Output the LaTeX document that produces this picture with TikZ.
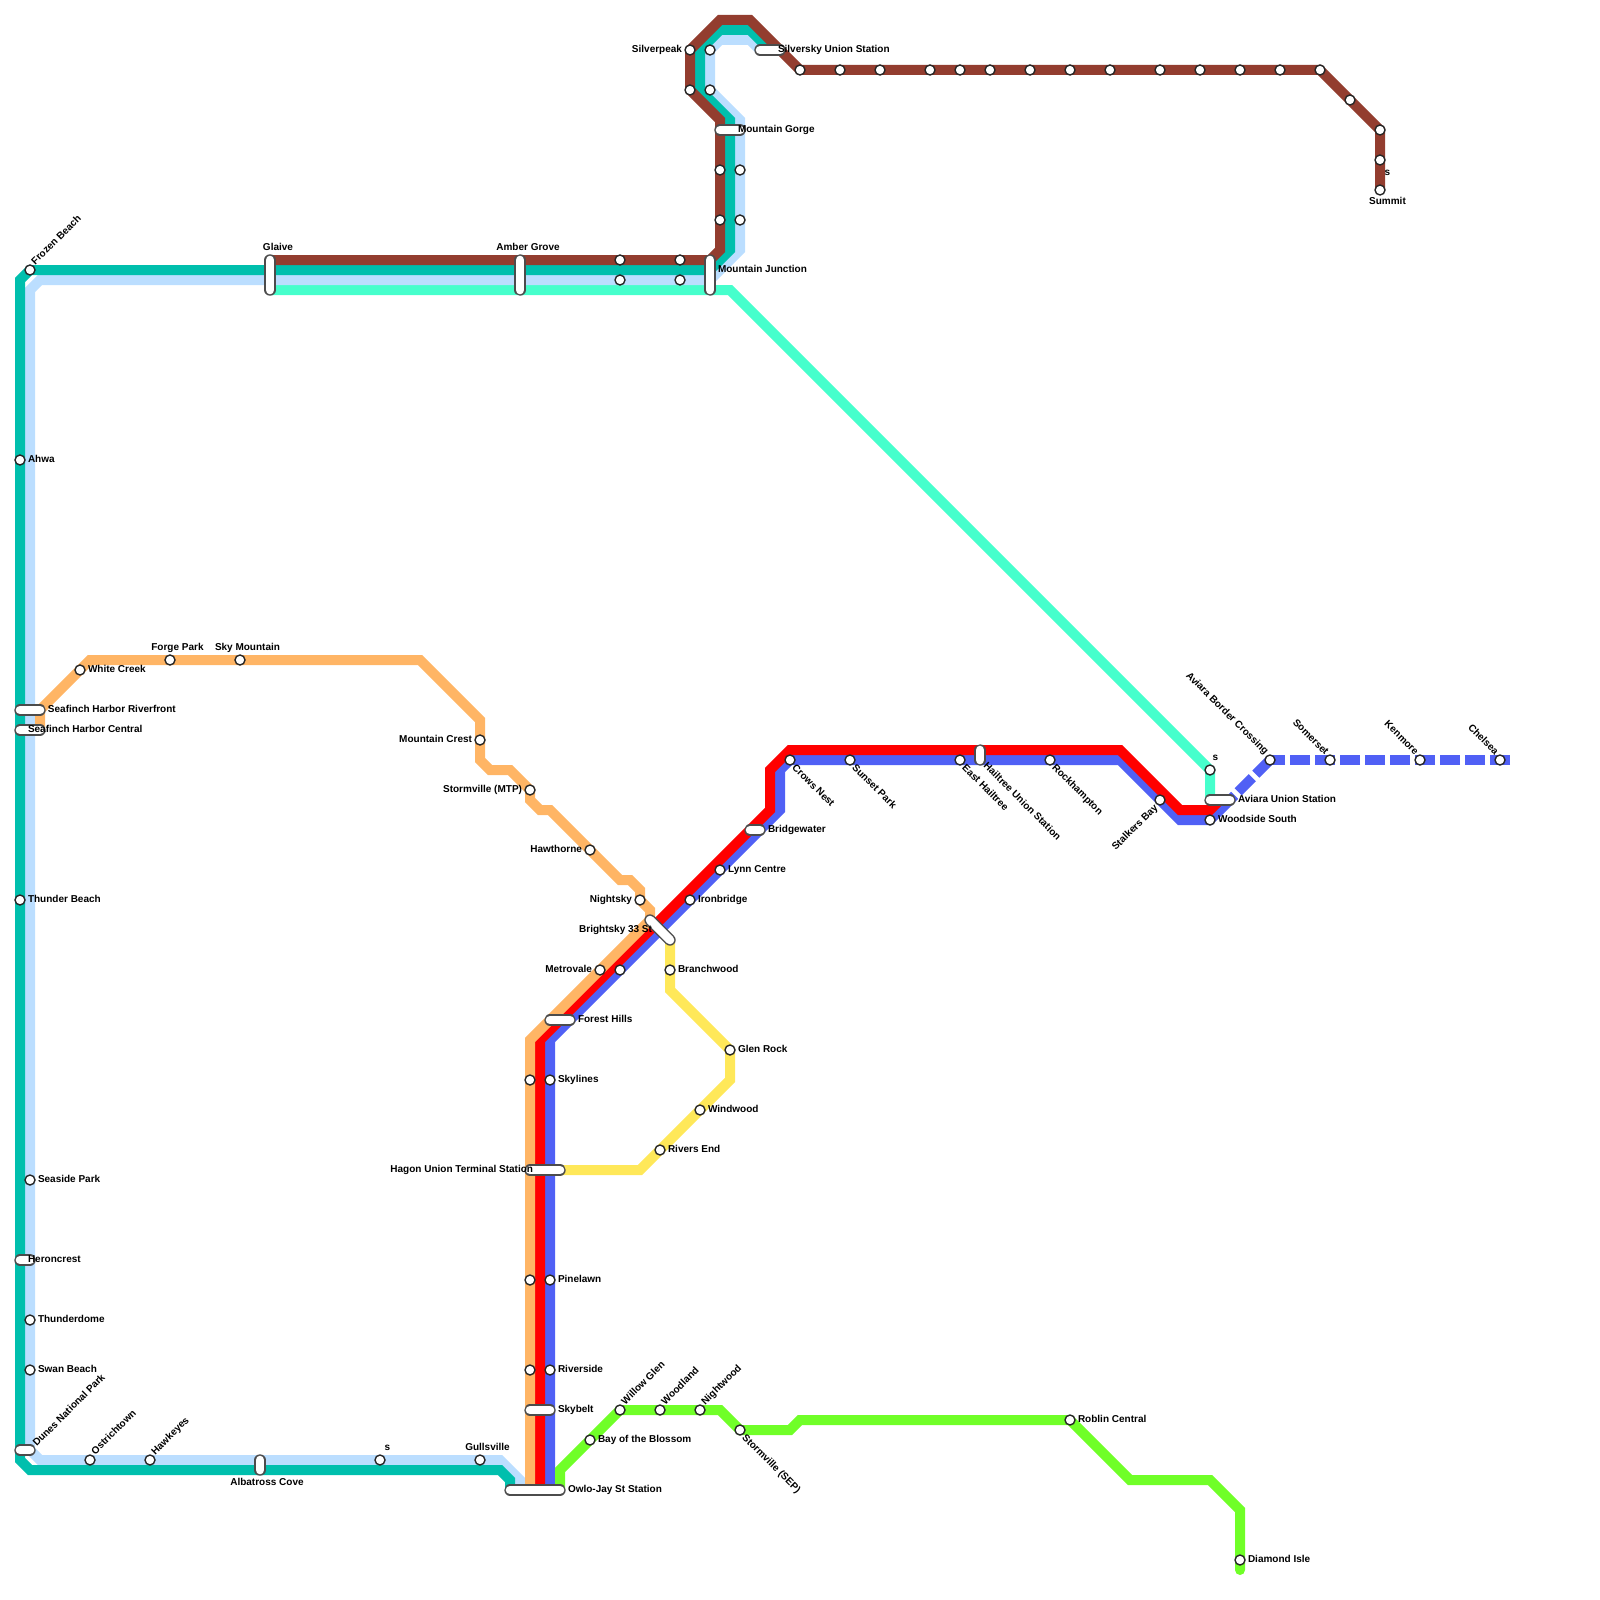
\documentclass[tikz,border=0pt]{standalone}
\usepackage{fontspec}
\setmainfont{Liberation Sans}
\usetikzlibrary{backgrounds}

\definecolor{brownline}{HTML}{933D2F}
\definecolor{tealline}{HTML}{00BFAD}
\definecolor{skyline}{HTML}{BBDEFF}
\definecolor{aqualine}{HTML}{46FFCC}
\definecolor{orangeline}{HTML}{FFB565}
\definecolor{redline}{HTML}{FF0000}
\definecolor{blueline}{HTML}{5060F5}
\definecolor{yellowline}{HTML}{FFE859}
\definecolor{greenline}{HTML}{70FF28}

\tikzset{
    metro/.style={line width=1mm, line join=miter},
    station/.style={circle, draw=black!85, fill=white, line width=0.14mm, minimum size=1mm, inner sep=0pt, outer sep=0pt},
    pill/.style={draw=black!70, line width=0.14mm, double=white, double distance=0.86mm, line cap=round},
    lbl/.style={font=\fontsize{2.845}{3.4}\selectfont\bfseries, text=black, inner sep=0pt, outer sep=0pt, text height=0.72mm, text depth=0.2mm},
    lblN/.style={lbl, xshift=0.75mm},
    lblNE/.style={lbl, rotate=45, anchor=west},
    lblSE/.style={lbl, rotate=-45, anchor=west},
    lblNW/.style={lbl, rotate=-45, anchor=east},
    lblSW/.style={lbl, rotate=45, anchor=east}
}

\begin{document}
\begin{tikzpicture}[x=1mm, y=-1mm, label distance=0.3mm]
    \useasboundingbox (0,0) rectangle (160,160);

    % interchanges
    \coordinate (glaiveN) at (27,26);
    \coordinate (glaiveS) at (27,29);
    \coordinate (amberN) at (52,26);
    \coordinate (amberS) at (52,29);
    \coordinate (junctionN) at (71,26);
    \coordinate (junctionS) at (71,29);
    \coordinate (gorgeW) at (72,13);
    \coordinate (gorgeE) at (74,13);
    \coordinate (silverskyW) at (76,5);
    \coordinate (silverskyM) at (77,5);
    \coordinate (silverskyE) at (78,5);
    \coordinate (riverfrontW) at (2,71);
    \coordinate (riverfrontE) at (4,71);
    \coordinate (centralW) at (2,73);
    \coordinate (centralE) at (4,73);
    \coordinate (heronW) at (2,126);
    \coordinate (heronE) at (3,126);
    \coordinate (dunesW) at (2,145);
    \coordinate (dunesE) at (3,145);
    \coordinate (albatrossN) at (26,146);
    \coordinate (albatrossS) at (26,147);
    \coordinate (owloT) at (51,149);
    \coordinate (owloL) at (52,149);
    \coordinate (owloO) at (53,149);
    \coordinate (owloR) at (54,149);
    \coordinate (owloP) at (55,149);
    \coordinate (owloG) at (56,149);
    \coordinate (skybeltW) at (53,141);
    \coordinate (skybeltE) at (55,141);
    \coordinate (hagonW) at (53,117);
    \coordinate (hagonE) at (56,117);
    \coordinate (forestW) at (55,102);
    \coordinate (forestE) at (57,102);
    \coordinate (brightskyN) at (65,92);
    \coordinate (brightskyS) at (67,94);
    \coordinate (bridgeW) at (75,83);
    \coordinate (bridgeE) at (76,83);
    \coordinate (hailtreeN) at (98,75);
    \coordinate (hailtreeS) at (98,76);
    \coordinate (aviaraW) at (121,80);
    \coordinate (aviaraM) at (122,80);
    \coordinate (aviaraE) at (123,80);

    \draw[pill] (glaiveN) -- (glaiveS);
    \draw[pill] (amberN) -- (amberS);
    \draw[pill] (junctionN) -- (junctionS);
    \draw[pill] (gorgeW) -- (gorgeE);
    \draw[pill] (silverskyW) -- (silverskyE);
    \draw[pill] (riverfrontW) -- (riverfrontE);
    \draw[pill] (centralW) -- (centralE);
    \draw[pill] (heronW) -- (heronE);
    \draw[pill] (dunesW) -- (dunesE);
    \draw[pill] (albatrossN) -- (albatrossS);
    \draw[pill] (owloT) -- (owloG);
    \draw[pill] (skybeltW) -- (skybeltE);
    \draw[pill] (hagonW) -- (hagonE);
    \draw[pill] (forestW) -- (forestE);
    \draw[pill] (brightskyN) -- (brightskyS);
    \draw[pill] (bridgeW) -- (bridgeE);
    \draw[pill] (hailtreeN) -- (hailtreeS);
    \draw[pill] (aviaraW) -- (aviaraE);

    % west side
    \node[station, label={[lblNE]45:Frozen Beach}] (frozen) at (3,27) {};
    \node[station, label={[lbl]right:Ahwa}] (ahwa) at (2,46) {};
    \node[station, label={[lbl]right:Thunder Beach}] (thunderBeach) at (2,90) {};
    \node[station, label={[lbl]right:Seaside Park}] (seaside) at (3,118) {};
    \node[station, label={[lbl]right:Thunderdome}] (thunderdome) at (3,132) {};
    \node[station, label={[lbl]right:Swan Beach}] (swan) at (3,137) {};
    \node[station, label={[lblNE]45:Ostrichtown}] (ostrich) at (9,146) {};
    \node[station, label={[lblNE]45:Hawkeyes}] (hawkeyes) at (15,146) {};
    \node[station, label={[lblN]above:s}] (southS) at (38,146) {};
    \node[station, label={[lblN]above:Gullsville}] (gullsville) at (48,146) {};

    % top
    \node[station] (midA) at (62,26) {};
    \node[station] (midB) at (62,28) {};
    \node[station] (midC) at (68,26) {};
    \node[station] (midD) at (68,28) {};
    \node[station] (gorgeA) at (72,17) {};
    \node[station] (gorgeB) at (72,22) {};
    \node[station] (gorgeC) at (74,17) {};
    \node[station] (gorgeD) at (74,22) {};
    \node[station, label={[lbl]left:Silverpeak}] (silverpeak) at (69,5) {};
    \node[station] (peakB) at (69,9) {};
    \node[station] (peakC) at (71,5) {};
    \node[station] (peakD) at (71,9) {};
    \node[station] (topA) at (80,7) {};
    \node[station] (topB) at (84,7) {};
    \node[station] (topC) at (88,7) {};
    \node[station] (topD) at (93,7) {};
    \node[station] (topE) at (96,7) {};
    \node[station] (topF) at (99,7) {};
    \node[station] (topG) at (103,7) {};
    \node[station] (topH) at (107,7) {};
    \node[station] (topI) at (111,7) {};
    \node[station] (topJ) at (116,7) {};
    \node[station] (topK) at (120,7) {};
    \node[station] (topL) at (124,7) {};
    \node[station] (topM) at (128,7) {};
    \node[station] (topN) at (132,7) {};
    \node[station] (topO) at (135,10) {};
    \node[station] (topP) at (138,13) {};
    \node[station] (topQ) at (138,16) {};
    \node[station] (summit) at (138,19) {};

    % orange branch
    \node[station, label={[lbl]right:White Creek}] (whiteCreek) at (8,67) {};
    \node[station, label={[lblN]above:Forge Park}] (forgePark) at (17,66) {};
    \node[station, label={[lblN]above:Sky Mountain}] (skyMountain) at (24,66) {};
    \node[station, label={[lbl]left:Mountain Crest}] (mtnCrest) at (48,74) {};
    \node[station, label={[lbl]left:Stormville (MTP)}] (stormMTP) at (53,79) {};
    \node[station, label={[lbl]left:Hawthorne}] (hawthorne) at (59,85) {};
    \node[station, label={[lbl]left:Nightsky}] (nightsky) at (64,90) {};
    \node[station, label={[lbl]left:Metrovale}] (metrovale) at (60,97) {};
    \node[station] (orangeA) at (53,108) {};
    \node[station] (orangeB) at (53,128) {};
    \node[station] (orangeC) at (53,137) {};

    % blue line
    \node[station, label={[lbl]right:Skylines}] (skylines) at (55,108) {};
    \node[station, label={[lbl]right:Pinelawn}] (pinelawn) at (55,128) {};
    \node[station, label={[lbl]right:Riverside}] (riverside) at (55,137) {};
    \node[station] (blueA) at (62,97) {};
    \node[station, label={[lbl]right:Ironbridge}] (ironbridge) at (69,90) {};
    \node[station, label={[lbl]right:Lynn Centre}] (lynn) at (72,87) {};
    \node[station, label={[lblSE]-45:Crows Nest}] (crows) at (79,76) {};
    \node[station, label={[lblSE]-45:Sunset Park}] (sunset) at (85,76) {};
    \node[station, label={[lblSE]-45:East Hailtree}] (eastHailtree) at (96,76) {};
    \node[station, label={[lblSE]-45:Rockhampton}] (rockhampton) at (105,76) {};
    \node[station, label={[lblSW]225:Stalkers Bay}] (stalkers) at (116,80) {};
    \node[station, label={[lbl]right:Woodside South}] (woodside) at (121,82) {};
    \node[station, label={[lblN, xshift=-0.2mm]above:s}] (aquaEnd) at (121,77) {};
    \node[station, label={[lblNW]135:Aviara Border Crossing}] (border) at (127,76) {};
    \node[station, label={[lblNW]135:Somerset}] (somerset) at (133,76) {};
    \node[station, label={[lblNW]135:Kenmore}] (kenmore) at (142,76) {};
    \node[station, label={[lblNW]135:Chelsea}] (chelsea) at (150,76) {};

    % yellow line
    \node[station, label={[lbl]right:Branchwood}] (branchwood) at (67,97) {};
    \node[station, label={[lbl]right:Glen Rock}] (glenRock) at (73,105) {};
    \node[station, label={[lbl]right:Windwood}] (windwood) at (70,111) {};
    \node[station, label={[lbl]right:Rivers End}] (riversEnd) at (66,115) {};

    % green line
    \node[station, label={[lbl]right:Bay of the Blossom}] (blossom) at (59,144) {};
    \node[station, label={[lblNE]45:Willow Glen}] (willow) at (62,141) {};
    \node[station, label={[lblNE]45:Woodland}] (woodland) at (66,141) {};
    \node[station, label={[lblNE]45:Nightwood}] (nightwood) at (70,141) {};
    \node[station, label={[lblSE]-45:Stormville (SEP)}] (stormSEP) at (74,143) {};
    \node[station, label={[lbl]right:Roblin Central}] (roblin) at (107,142) {};
    \node[station, label={[lbl]right:Diamond Isle}] (diamond) at (124,156) {};

    % interchange names
    \node[lbl, anchor=south] (glaiveLbl) at (27.8,25.2) {Glaive};
    \node[lbl, anchor=south] (amberLbl) at (52.8,25.2) {Amber Grove};
    \node[lbl, anchor=west] (junctionLbl) at (71.8,27) {Mountain Junction};
    \node[lbl, anchor=west] (gorgeLbl) at (73.8,13) {Mountain Gorge};
    \node[lbl, anchor=west] (silverskyLbl) at (77.8,5) {Silversky Union Station};
    \node[lbl, anchor=west] (riverfrontLbl) at (4.8,71) {Seafinch Harbor Riverfront};
    \node[lbl, anchor=west] (centralLbl) at (2.8,73) {Seafinch Harbor Central};
    \node[lbl, anchor=west] (heronLbl) at (2.8,126) {Heroncrest};
    \node[lblNE] (dunesLbl) at (3.5,144.5) {Dunes National Park};
    \node[lbl, anchor=north] (albatrossLbl) at (26.7,147.8) {Albatross Cove};
    \node[lbl, anchor=west] (owloLbl) at (56.8,149) {Owlo-Jay St Station};
    \node[lbl, anchor=west] (skybeltLbl) at (55.8,141) {Skybelt};
    \node[lbl, anchor=east] (hagonLbl) at (53.3,117) {Hagon Union Terminal Station};
    \node[lbl, anchor=west] (forestLbl) at (57.8,102) {Forest Hills};
    \node[lbl, anchor=east] (brightskyLbl) at (65.2,93) {Brightsky 33 St};
    \node[lbl, anchor=west] (bridgeLbl) at (76.8,83) {Bridgewater};
    \node[lblSE] (hailtreeLbl) at (98.5,76.5) {Hailtree Union Station};
    \node[lbl, anchor=west] (aviaraLbl) at (123.8,80) {Aviara Union Station};
    \node[lbl] (topQLbl) at (138.75,17.3) {s};
    \node[lbl] (summitLbl) at (138.75,20.2) {Summit};

    \begin{pgfonlayer}{background}
        \draw[metro, aqualine] (glaiveS) -- (73,29) -- (aquaEnd.center) -- (aviaraW);
        \draw[metro, skyline] (owloL) -- (52,148) -- (50,146) -- (4,146) -- (3,145) -- (3,29) -- (4,28) -- (71,28)
            -- (74,25) -- (74,12) -- (peakD.center) -- (peakC.center) -- (72,4) -- (75,4) -- (silverskyW);
        \draw[metro, tealline] (owloT) -- (51,148) -- (50,147) -- (3,147) -- (2,146) -- (2,28) -- (frozen.center) -- (71,27)
            -- (73,25) -- (73,12) -- (70,9) -- (70,5) -- (72,3) -- (75,3) -- (silverskyM);
        \draw[metro, brownline] (glaiveN) -- (junctionN) -- (72,25) -- (72,12) -- (peakB.center)
            -- (silverpeak.center) -- (72,2) -- (75,2) -- (topA.center) -- (topN.center) -- (topP.center) -- (summit.center);
        \draw[metro, blueline] (owloP) -- (55,104) -- (78,81) -- (78,77) -- (crows.center) -- (112,76)
            -- (118,82) -- (woodside.center) -- (aviaraE);
        \draw[metro, blueline, dash pattern=on 2mm off 0.5mm] (border.center) -- (aviaraE);
        \draw[metro, blueline, dash pattern=on 2mm off 0.5mm] (151,76) -- (border.center);
        \draw[metro, redline] (owloR) -- (54,104) -- (77,81) -- (77,77) -- (79,75) -- (112,75) -- (118,81)
            -- (121,81) -- (aviaraM);
        \draw[metro, orangeline] (owloO) -- (53,104) -- (brightskyN) -- (65,91) -- (nightsky.center) -- (64,89)
            -- (63,88) -- (62,88) -- (55,81) -- (54,81) -- (53,80) -- (stormMTP.center) -- (51,77) -- (49,77)
            -- (48,76) -- (48,72) -- (42,66) -- (9,66) -- (riverfrontE) -- (centralE);
        \draw[metro, yellowline] (hagonE) -- (64,117) -- (73,108) -- (glenRock.center) -- (67,99) -- (brightskyS);
        \draw[metro, greenline, line cap=round] (owloG) -- (56,147) -- (willow.center) -- (72,141) -- (stormSEP.center)
            -- (79,143) -- (80,142) -- (roblin.center) -- (113,148) -- (121,148) -- (124,151) -- (124,157);
    \end{pgfonlayer}
\end{tikzpicture}
\end{document}
